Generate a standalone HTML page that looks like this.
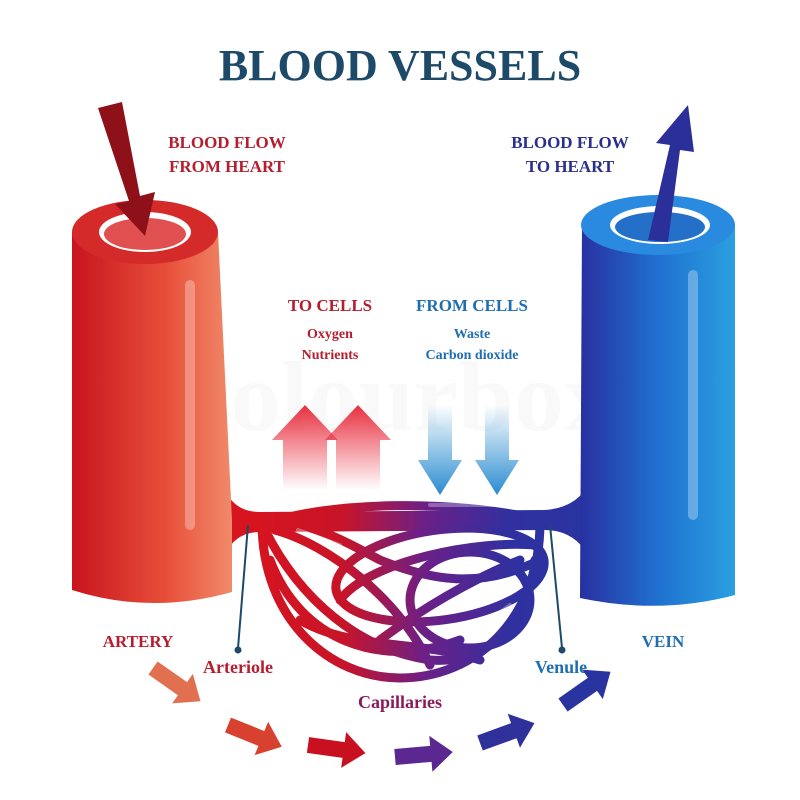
<!DOCTYPE html>
<html><head><meta charset="utf-8"><style>
body{margin:0;background:#fff}
svg{display:block}
text{font-family:"Liberation Serif",serif;font-weight:bold}
</style></head><body>
<svg width="800" height="800" viewBox="0 0 800 800" xmlns="http://www.w3.org/2000/svg">
<defs>
<linearGradient id="red" x1="0" x2="1"><stop offset="0" stop-color="#c8141e"/><stop offset="0.6" stop-color="#e8503a"/><stop offset="1" stop-color="#f08a6a"/></linearGradient>
<linearGradient id="blue" x1="0" x2="1"><stop offset="0" stop-color="#2830a0"/><stop offset="0.5" stop-color="#1f70d0"/><stop offset="1" stop-color="#2aa0e0"/></linearGradient>
<linearGradient id="cap" gradientUnits="userSpaceOnUse" x1="240" y1="0" x2="580" y2="0"><stop offset="0" stop-color="#d8141e"/><stop offset="0.3" stop-color="#c81428"/><stop offset="0.55" stop-color="#6a2088"/><stop offset="0.8" stop-color="#3030a0"/><stop offset="1" stop-color="#2a34a0"/></linearGradient>
<linearGradient id="ru" x1="0" y1="1" x2="0" y2="0"><stop offset="0" stop-color="#e83040" stop-opacity="0"/><stop offset="1" stop-color="#e83040"/></linearGradient>
<linearGradient id="bd" x1="0" y1="0" x2="0" y2="1"><stop offset="0" stop-color="#2a90d0" stop-opacity="0"/><stop offset="1" stop-color="#2a8ad0"/></linearGradient>
<path id="ar" d="M0,-8 L36,-8 L36,-18 L58,0 L36,18 L36,8 L0,8 Z"/>
</defs>
<text x="400" y="80" text-anchor="middle" font-size="44" fill="#1d4a68">BLOOD VESSELS</text>
<text x="227" y="148" text-anchor="middle" font-size="17" fill="#b51e2e">BLOOD FLOW</text>
<text x="227" y="172" text-anchor="middle" font-size="17" fill="#b51e2e">FROM HEART</text>
<text x="570" y="148" text-anchor="middle" font-size="17" fill="#2a2f8f">BLOOD FLOW</text>
<text x="570" y="172" text-anchor="middle" font-size="17" fill="#2a2f8f">TO HEART</text>
<text x="400" y="430" text-anchor="middle" font-size="100" fill="#000" fill-opacity="0.025" font-family="Liberation Sans">colourbox</text>
<!-- connector vessel -->
<path d="M225,490 Q235,512 260,512 L545,510 Q572,508 585,490 L585,550 Q570,530 545,530 L260,532 Q235,532 225,555 Z" fill="url(#cap)"/>
<!-- artery -->
<path d="M72,232 L72,590 Q150,615 232,592 L232,520 L218,232 Z" fill="url(#red)"/>
<ellipse cx="145" cy="232" rx="73" ry="32" fill="#d52a2a"/>
<ellipse cx="145" cy="232" rx="46" ry="20" fill="#fff"/>
<ellipse cx="145" cy="234" rx="41" ry="16" fill="#e05050"/>
<rect x="185" y="280" width="10" height="250" rx="5" fill="#fff" fill-opacity="0.3"/>
<!-- vein -->
<path d="M582,225 L580,598 Q660,615 735,595 L735,225 Z" fill="url(#blue)"/>
<ellipse cx="658" cy="225" rx="77" ry="30" fill="#2a8ae0"/>
<ellipse cx="660" cy="225" rx="50" ry="19" fill="#fff"/>
<ellipse cx="660" cy="227" rx="45" ry="15" fill="#2470c8"/>
<rect x="688" y="270" width="10" height="250" rx="5" fill="#fff" fill-opacity="0.3"/>
<!-- big arrows -->
<path d="M98,108 L122,102 L140,196 L155,192 L145,236 L115,204 L129,201 Z" fill="#8e1018"/>
<path d="M648,240 L668,242 L680,150 L694,152 L688,105 L656,143 L670,145 Z" fill="#2a2f9a"/>
<!-- capillaries -->
<g fill="none" stroke="url(#cap)" stroke-width="9" stroke-linecap="round">
<path d="M262,522 C262,620 330,678 400,678 C475,678 540,620 540,522"/>
<path d="M265,530 C300,600 360,650 430,660 C490,665 530,620 535,560"/>
<path d="M270,560 C300,640 380,670 460,640"/>
<path d="M275,530 C330,545 400,600 430,665"/>
<path d="M262,525 C330,500 460,500 540,520"/>
<path d="M280,520 C330,530 360,550 380,560 C430,580 480,590 540,560"/>
<ellipse cx="440" cy="575" rx="105" ry="45" transform="rotate(-8 440 575)"/>
<ellipse cx="470" cy="600" rx="60" ry="48"/>
<path d="M340,600 C370,560 480,540 535,545"/>
<path d="M380,640 C420,610 470,580 520,560"/>
<path d="M300,620 C350,650 420,640 480,660"/>
</g>
<g fill="none" stroke="#fff" stroke-opacity="0.3" stroke-width="4" stroke-linecap="round">
<path d="M298,530 L340,545"/><path d="M430,505 L505,505"/><path d="M270,600 L280,625"/><path d="M345,653 L375,665"/><path d="M490,620 L510,605"/>
</g>
<!-- cell arrows -->
<path d="M283,490 L283,440 L272,440 L305,405 L338,440 L327,440 L327,490 Z" fill="url(#ru)"/>
<path d="M336,490 L336,440 L325,440 L358,405 L391,440 L380,440 L380,490 Z" fill="url(#ru)"/>
<path d="M428,405 L428,460 L418,460 L440,495 L462,460 L452,460 L452,405 Z" fill="url(#bd)"/>
<path d="M485,405 L485,460 L475,460 L497,495 L519,460 L509,460 L509,405 Z" fill="url(#bd)"/>
<text x="330" y="311" text-anchor="middle" font-size="17" fill="#b51e2e">TO CELLS</text>
<text x="330" y="338" text-anchor="middle" font-size="14" fill="#b51e2e">Oxygen</text>
<text x="330" y="359" text-anchor="middle" font-size="14" fill="#b51e2e">Nutrients</text>
<text x="472" y="311" text-anchor="middle" font-size="17" fill="#1f6fb0">FROM CELLS</text>
<text x="472" y="338" text-anchor="middle" font-size="14" fill="#1f6fb0">Waste</text>
<text x="472" y="359" text-anchor="middle" font-size="14" fill="#1f6fb0">Carbon dioxide</text>
<!-- pointers -->
<line x1="248" y1="525" x2="238" y2="648" stroke="#1d4a68" stroke-width="2"/><circle cx="238" cy="650" r="3.5" fill="#1d4a68"/>
<line x1="550" y1="525" x2="562" y2="648" stroke="#1d4a68" stroke-width="2"/><circle cx="562" cy="650" r="3.5" fill="#1d4a68"/>
<text x="138" y="647" text-anchor="middle" font-size="17" fill="#b51e2e">ARTERY</text>
<text x="238" y="673" text-anchor="middle" font-size="18" fill="#b51e2e">Arteriole</text>
<text x="400" y="708" text-anchor="middle" font-size="18" fill="#8b1a5a">Capillaries</text>
<text x="561" y="673" text-anchor="middle" font-size="18" fill="#1f6fb0">Venule</text>
<text x="663" y="647" text-anchor="middle" font-size="17" fill="#1f6fb0">VEIN</text>
<!-- flow arrows -->
<use href="#ar" transform="translate(153,668) rotate(35)" fill="#e07050"/>
<use href="#ar" transform="translate(228,725) rotate(22)" fill="#d84030"/>
<use href="#ar" transform="translate(308,745) rotate(8)" fill="#c81020"/>
<use href="#ar" transform="translate(395,757) rotate(-5)" fill="#5a2890"/>
<use href="#ar" transform="translate(480,743) rotate(-20)" fill="#30309a"/>
<use href="#ar" transform="translate(563,705) rotate(-35)" fill="#2a34a0"/>
</svg>
</body></html>
